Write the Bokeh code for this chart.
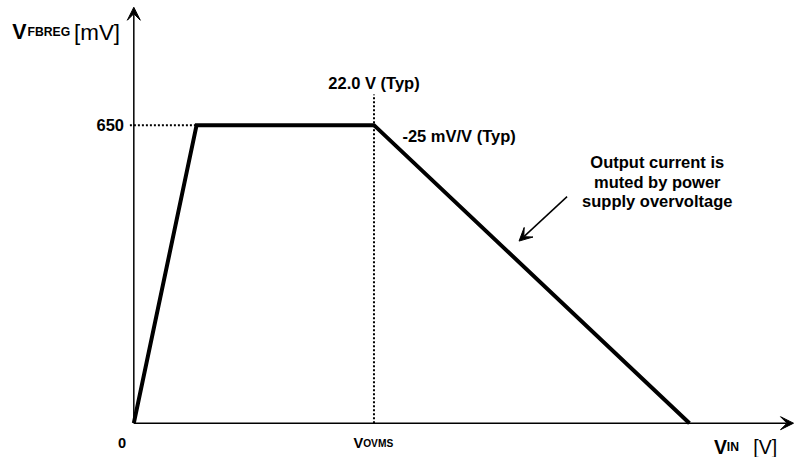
from bokeh.plotting import figure
from bokeh.models import Arrow, VeeHead, Label, Range1d
from bokeh.embed import file_html
from bokeh.resources import INLINE

# ---- data (schematic characteristic) ----
vin = [0.0, 5.75, 22.0, 50.9]          # V
vfbreg = [0.0, 650.0, 650.0, 0.0]      # mV
v_ovms = 22.0                          # V (Typ)
v_reg = 650.0                          # mV
marker_top = 717.0                     # mV, top of the dotted V_OVMS marker

# ---- layout (positions measured in an 810x473 reference frame, scaled to canvas) ----
W, H = 794, 457
SX, SY = W / 810.0, H / 473.0
OX, OY = 136.0 * SX, 437.5 * SY        # canvas px of the origin
PPX = (381.0 - 136.0) * SX / v_ovms    # px per volt
PPY = (437.5 - 129.0) * SY / v_reg     # px per mV
FS = (SX + SY) / 2.0                   # font scale

def dx(rx):
    return (rx * SX - OX) / PPX

def dy(ry):
    return (OY - ry * SY) / PPY

def fs(size):
    return "%.1fpx" % (size * FS)

p = figure(width=W, height=H, output_backend="svg", toolbar_location=None,
           x_axis_type=None, y_axis_type=None, min_border=0,
           x_range=Range1d(-OX / PPX, (W - OX) / PPX),
           y_range=Range1d(-(H - OY) / PPY, OY / PPY))
p.outline_line_color = None
p.background_fill_color = "white"
p.border_fill_color = "white"

FONT = "Liberation Sans"

def head():
    return VeeHead(size=13, fill_color="black", line_color="black", line_width=1)

# axes with arrows
p.add_layout(Arrow(x_start=0, y_start=0, x_end=0, y_end=dy(7), line_width=1.5, end=head()))
p.add_layout(Arrow(x_start=0, y_start=0, x_end=dx(809), y_end=0, line_width=1.5, end=head()))

# dotted guides
p.line([dx(132), vin[1]], [v_reg, v_reg], line_color="black", line_width=2, line_dash="2 2")
p.line([v_ovms, v_ovms], [0, marker_top], line_color="black", line_width=2, line_dash="2 2")

# main curve
p.line(vin, vfbreg, line_color="black", line_width=4, line_join="miter")

# pointer arrow
p.add_layout(Arrow(x_start=dx(578), y_start=dy(203), x_end=dx(529), y_end=dy(249),
                   line_width=1.5, end=head()))

def lab(rx, ry, text, size, bold=True, align="left", baseline="alphabetic", **kw):
    p.add_layout(Label(x=dx(rx), y=dy(ry), text=text, text_font=FONT,
                       text_font_size=fs(size), text_font_style="bold" if bold else "normal",
                       text_align=align, text_baseline=baseline, text_color="black", **kw))

# y axis title
lab(12, 33, "V", 22)
lab(27.5, 33, "FBREG", 12.5)
lab(75, 33, "[mV]", 23, bold=False)

# x axis title
lab(728, 462, "V", 20)
lab(741, 462, "IN", 12.5)
lab(768, 462, "[V]", 20, bold=False)

# tick-like labels
lab(126, 128.5, "650", 17, align="right", baseline="middle")
lab(124, 458, "0", 15, align="center")
lab(360, 458, "V", 15)
lab(370, 458, "OVMS", 10.5)

# annotations
lab(381, 85, "22.0 V (Typ)", 17, align="center", baseline="middle")
lab(410, 140, "-25 mV/V (Typ)", 17, baseline="middle")
lab(670, 158, "Output current is\nmuted by power\nsupply overvoltage", 17,
    align="center", baseline="top", text_line_height=1.08)

open("out.html", "w").write(file_html(p, INLINE))
